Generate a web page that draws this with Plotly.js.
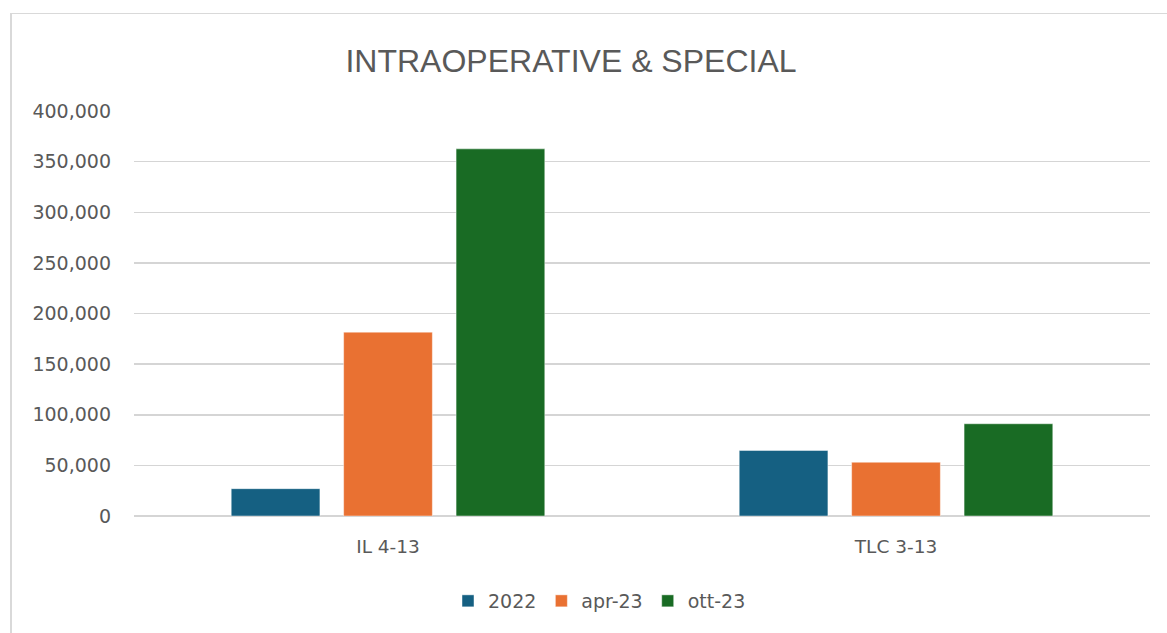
<!DOCTYPE html>
<html>
<head>
<meta charset="utf-8">
<script src="https://cdn.plot.ly/plotly-3.0.1.min.js"></script>
<style>
  html, body { margin: 0; padding: 0; background: #ffffff; overflow: hidden; }
  #wrap { position: relative; width: 1167px; height: 633px; }
  #chart { position: absolute; left: 0; top: 0; width: 1167px; height: 633px; }
  #frame { position: absolute; left: 10px; top: 13px; width: 1200px; height: 700px;
           border-left: 2px solid #d9d9d9; border-top: 1.5px solid #d9d9d9; pointer-events: none; }
</style>
</head>
<body>
<div id="wrap">
  <div id="chart"></div>
  <div id="frame"></div>
</div>
<script>
const categories = ["IL 4-13", "TLC 3-13"];
const seriesNames = ["2022", "apr-23", "ott-23"];
const values2022 = [27000, 64700];
const valuesApr23 = [181600, 53100];
const valuesOtt23 = [362600, 91100];
const seriesColors = ["#156082", "#E97132", "#196B24"];

const allValues = [values2022, valuesApr23, valuesOtt23];
const traces = allValues.map((vals, i) => ({
  type: "bar",
  name: seriesNames[i],
  x: categories,
  y: vals,
  marker: { color: seriesColors[i], line: { color: "rgba(255,255,255,0.45)", width: 1 } },
  hoverinfo: "x+y+name"
}));

const fontFam = "DejaVu Sans, Liberation Sans, sans-serif";
const layout = {
  width: 1167,
  height: 633,
  paper_bgcolor: "#ffffff",
  plot_bgcolor: "#ffffff",
  separators: ".,",
  margin: { l: 134, r: 17, t: 111, b: 117, pad: 0 },
  title: {
    text: "INTRAOPERATIVE & SPECIAL",
    font: { family: "Liberation Sans, Arial, sans-serif", size: 32, color: "#595959" },
    xref: "container", yref: "container",
    x: 571 / 1167, xanchor: "center",
    y: 1 - 61 / 633, yanchor: "middle"
  },
  barmode: "group",
  bargap: 0.336,
  bargroupgap: 0.211,
  xaxis: {
    type: "category",
    showgrid: false,
    showline: false,
    zeroline: false,
    ticks: "",
    ticklabelstandoff: 17,
    tickfont: { family: fontFam, size: 18.5, color: "#595959" }
  },
  yaxis: {
    range: [0, 400000],
    dtick: 50000,
    tick0: 0,
    tickformat: ",d",
    showgrid: true,
    gridcolor: "#d5d5d5",
    gridwidth: 1.5,
    zeroline: true,
    zerolinecolor: "#d5d5d5",
    zerolinewidth: 1.5,
    showline: false,
    ticks: "",
    ticklabelstandoff: 22,
    tickfont: { family: fontFam, size: 19, color: "#595959" },
    fixedrange: true
  },
  showlegend: true,
  legend: {
    orientation: "h",
    x: (448 - 134) / 1016,
    xanchor: "left",
    y: (516 - 601) / 405,
    yanchor: "middle",
    font: { family: fontFam, size: 19, color: "#595959" },
    bgcolor: "rgba(0,0,0,0)"
  }
};

Plotly.newPlot("chart", traces, layout, { displayModeBar: false, staticPlot: true });
</script>
</body>
</html>
